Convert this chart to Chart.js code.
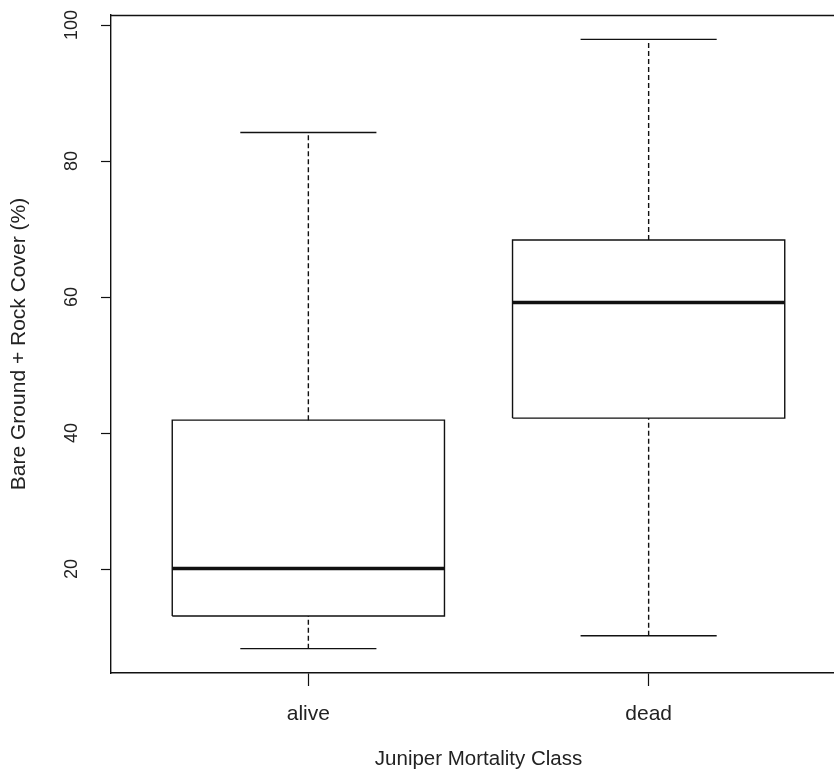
<!DOCTYPE html>
<html>
<head>
<meta charset="utf-8">
<script src="https://cdn.jsdelivr.net/npm/chart.js@4/dist/chart.umd.min.js"></script>
<style>
  html, body { margin: 0; padding: 0; background: #ffffff; overflow: hidden; }
  #wrap { width: 834px; height: 776px; overflow: hidden; }
</style>
</head>
<body>
<div id="wrap"><canvas id="c" width="846" height="776"></canvas></div>
<script>
// ---- data ----
const categories = ["alive", "dead"];
const whiskerLow  = [8.3, 10.2];
const quartile1   = [13.1, 42.2];
const medians     = [20.1, 59.2];
const quartile3   = [41.9, 68.4];
const whiskerHigh = [84.2, 97.9];
const yTickValues = [20, 40, 60, 80, 100];

const xTitle = "Juniper Mortality Class";
const yTitle = "Bare Ground + Rock Cover (%)";

// ---- styling ----
const FONT = "'Liberation Sans', Arial, Helvetica, sans-serif";
const INK = "#111111";
const TEXT = "#222222";
const BOX_HALF = 0.4;
const CAP_HALF = 0.2;

const datasets = [];
categories.forEach((cat, i) => {
  const x = i + 1;
  const base = { showLine: true, pointRadius: 0, borderColor: INK, fill: false, tension: 0 };
  datasets.push(Object.assign({}, base, {
    label: cat + " box", borderWidth: 1.4,
    data: [
      {x: x - BOX_HALF, y: quartile1[i]}, {x: x + BOX_HALF, y: quartile1[i]},
      {x: x + BOX_HALF, y: quartile3[i]}, {x: x - BOX_HALF, y: quartile3[i]},
      {x: x - BOX_HALF, y: quartile1[i]}
    ]
  }));
  datasets.push(Object.assign({}, base, {
    label: cat + " median", borderWidth: 3.5, borderCapStyle: 'butt',
    data: [{x: x - BOX_HALF, y: medians[i]}, {x: x + BOX_HALF, y: medians[i]}]
  }));
  datasets.push(Object.assign({}, base, {
    label: cat + " upper whisker", borderWidth: 1.4, borderDash: [5, 3],
    data: [{x: x, y: quartile3[i]}, {x: x, y: whiskerHigh[i]}]
  }));
  datasets.push(Object.assign({}, base, {
    label: cat + " lower whisker", borderWidth: 1.4, borderDash: [5, 3],
    data: [{x: x, y: whiskerLow[i]}, {x: x, y: quartile1[i]}]
  }));
  datasets.push(Object.assign({}, base, {
    label: cat + " upper cap", borderWidth: 1.4,
    data: [{x: x - CAP_HALF, y: whiskerHigh[i]}, {x: x + CAP_HALF, y: whiskerHigh[i]}]
  }));
  datasets.push(Object.assign({}, base, {
    label: cat + " lower cap", borderWidth: 1.4,
    data: [{x: x - CAP_HALF, y: whiskerLow[i]}, {x: x + CAP_HALF, y: whiskerLow[i]}]
  }));
});

// R-style axis range: data range expanded by 4%
const allVals = whiskerLow.concat(whiskerHigh);
const dMin = Math.min.apply(null, allVals), dMax = Math.max.apply(null, allVals);
const yPad = (dMax - dMin) * 0.04;
const xLo = 0.5, xHi = categories.length + 0.5, xPad = (xHi - xLo) * 0.04;

const topFrame = {
  id: 'topFrame',
  afterDatasetsDraw(chart) {
    const a = chart.chartArea, ctx = chart.ctx;
    ctx.save();
    ctx.strokeStyle = INK;
    ctx.lineWidth = 1.4;
    ctx.beginPath();
    ctx.moveTo(a.left, a.top + 0.5);
    ctx.lineTo(a.right, a.top + 0.5);
    ctx.lineTo(a.right, a.bottom);
    ctx.stroke();
    ctx.restore();
  }
};

new Chart(document.getElementById('c'), {
  type: 'scatter',
  data: { datasets: datasets },
  plugins: [topFrame],
  options: {
    responsive: false,
    animation: false,
    events: [],
    layout: { padding: { top: 15, left: 0, right: 0, bottom: 0 } },
    plugins: { legend: { display: false }, tooltip: { enabled: false } },
    scales: {
      x: {
        type: 'linear',
        min: xLo - xPad, max: xHi + xPad,
        afterBuildTicks(scale) { scale.ticks = categories.map((c, i) => ({ value: i + 1 })); },
        afterFit(scale) {
          scale.height = 776 - 673;
          scale.paddingLeft = 0; scale.paddingRight = 0;
        },
        grid: { display: true, drawOnChartArea: false, drawTicks: true, tickLength: 13, color: INK, tickWidth: 1.2 },
        border: { display: true, color: INK, width: 1.4 },
        ticks: {
          padding: 16, color: TEXT, maxRotation: 0, minRotation: 0,
          font: { family: FONT, size: 21 },
          callback: (v) => categories[Math.round(v) - 1] || ''
        },
        title: {
          display: true, text: xTitle, color: TEXT,
          font: { family: FONT, size: 20.5 },
          padding: { top: 20, bottom: 4 }
        }
      },
      y: {
        type: 'linear',
        min: dMin - yPad, max: dMax + yPad,
        afterBuildTicks(scale) { scale.ticks = yTickValues.map(v => ({ value: v })); },
        afterFit(scale) {
          scale.width = 111;
          scale.paddingTop = 0; scale.paddingBottom = 0;
        },
        grid: { display: true, drawOnChartArea: false, drawTicks: true, tickLength: 10, color: INK, tickWidth: 1.2 },
        border: { display: true, color: INK, width: 1.4 },
        ticks: {
          color: TEXT, minRotation: 90, maxRotation: 90, crossAlign: 'center', padding: 14,
          font: { family: FONT, size: 18 }
        },
        title: {
          display: true, text: yTitle, color: TEXT,
          font: { family: FONT, size: 21 },
          padding: { top: 7, bottom: 0 }
        }
      }
    }
  }
});
</script>
</body>
</html>
